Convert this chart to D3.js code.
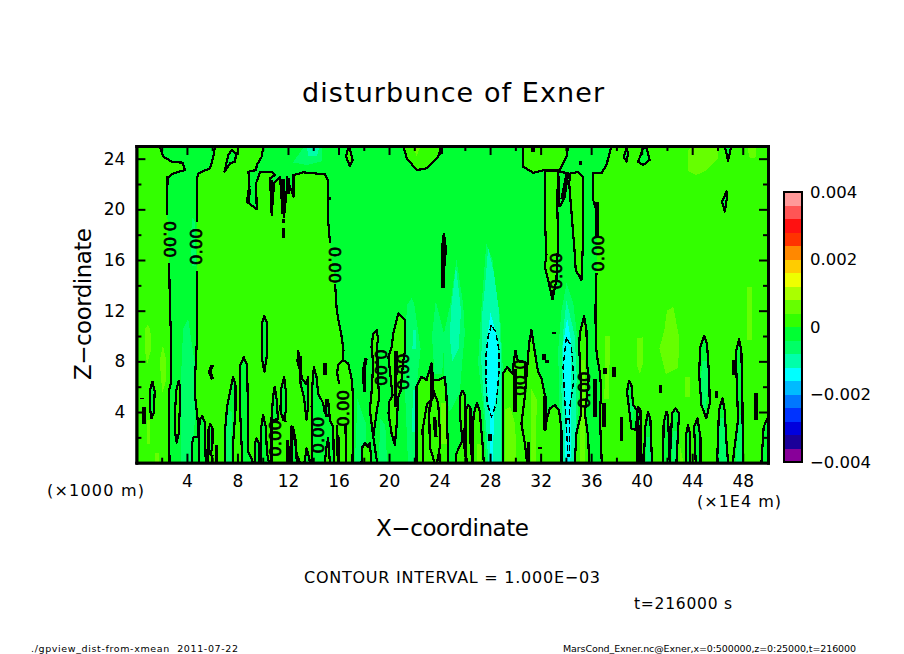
<!DOCTYPE html>
<html><head><meta charset="utf-8">
<script src="https://cdn.jsdelivr.net/npm/d3@7/dist/d3.min.js"></script>
<style>html,body{margin:0;padding:0;background:#fff}svg{display:block}text{font-family:"DejaVu Sans",sans-serif;fill:#000}</style>
</head><body><svg id="c" width="904" height="654"></svg>
<script>
// ---- tick labels and legend values
const xMajor=[4,8,12,16,20,24,28,32,36,40,44,48];
const xMinor=[2,6,10,14,18,22,26,30,34,38,42,46,50];
const zMajor=[4,8,12,16,20,24];
const zMinor=[2,6,10,14,18,22];
const levelColors=["#880099","#1a0099","#0000dd","#0033ff","#0077ff","#00bbff","#00ffff","#00ffaa","#00ff66","#00ff33","#33ff00","#66ff00","#aaff00","#eeff00","#ffcc00","#ff8800","#ff3300","#ff1111","#ff5555","#ff9999"];
const legendTicks=[[0.004,"0.004"],[0.002,"0.002"],[0,"0"],[-0.002,"\u22120.002"],[-0.004,"\u22120.004"]];
// ---- zero contour, main branches, (x, z)
const lineA1=[[1.82,25],[2.14,24.16],[2.8,23.76],[3.67,23.68],[3.85,23.1],[2.93,22.84],[2.4,22.45],[2.45,19.55]];
const lineA2=[[2.59,15.74],[2.66,12.05],[2.72,10.5],[2.72,6.26],[2.56,5.6],[2.62,0]];
const lineB1=[[6.23,25],[6.09,24.16],[5.83,23.24],[4.91,22.84],[4.78,22.45],[4.78,19.03]];
const lineB2=[[4.78,15.16],[4.78,12.05],[4.83,10.47],[4.67,7.3],[4.65,5.2],[4.83,3.6],[4.93,2.05],[4.95,0]];
const lineC1=[[10.05,25],[9.92,24.16],[9.53,23.5],[9.47,23.1],[8.87,22.97],[8.95,21.79],[8.74,20.6],[9.53,20],[9.47,22.05],[9.79,22.92],[10.71,22.97],[10.98,22.71],[10.58,22.45],[10.71,19.55],[10.9,22.05],[11.37,22.58],[11.5,20.74],[11.69,19.42],[11.9,21.53],[11.9,22.58],[12.43,21],[12.43,22.71],[13.22,22.92],[14.93,22.76],[15.2,22.18],[15.15,19.42],[15.33,17.32]];
const lineC2=[[15.73,14.1],[15.86,12.05],[15.99,11.26],[16.25,9.95],[16.39,8.9],[16.37,8.1]];
const lineC3=[[16.37,8.1],[16.77,7.84],[17.03,6.66],[17.16,5.2],[17.11,0]];
const lineD1=[[37.61,25],[37.21,23.5],[36.81,22.84],[36.16,22.84],[36.16,20.74],[36.42,19.95],[36.47,17.84]];
const lineD2=[[36.42,14.95],[36.34,12.05],[36.37,9.42],[36.47,8.37],[36.68,7.18],[36.81,5.74],[36.68,3.9],[36.84,0]];
// ---- closed negative pockets inside the positive areas
const negLoops=[
[[1.27,6.39],[1.11,5.87],[1.06,4.42],[1.19,3.5],[1.37,3.89],[1.45,5.63]],
[[7.55,24.68],[7.28,24.29],[6.97,22.97],[7.41,23.63],[7.81,23.76],[7.89,24.42]],
[[10.13,11.6],[9.95,11],[9.92,8.37],[10.13,7.18],[10.32,8.37],[10.34,11]],
[[4.43,0],[4.41,1.53],[4.54,2.05],[4.93,2.05],[5.01,3.37],[5.2,3.68],[5.41,3.24],[5.49,0]],
[[5.86,3.05],[5.7,2.58],[5.7,.74],[5.9,.6],[6.02,1.53],[6.02,2.71]],
[[6.99,0],[7.02,2.58],[7.18,4.42],[7.52,6.13],[7.65,6.79],[7.84,6.13],[7.84,4.16],[7.65,1.5],[7.65,0]],
[[8.39,0],[8.23,3.63],[8.18,7.58],[8.5,8.32],[8.76,7.71],[8.84,3.9],[8.84,.87],[9.1,.34],[9.23,0]],
[[9.37,0],[9.37,1.5],[9.5,1.92],[9.71,1.5],[9.71,0]],
[[9.89,0],[9.89,2.84],[10.03,3.76],[10.24,2.84],[10.34,.74],[10.5,0]],
[[10.69,3.37],[10.82,5.21],[10.95,6],[11.1,5],[11.21,3.42]],
[[11.61,3.37],[11.4,4.16],[11.48,5.87],[11.69,6.79],[11.82,5.74],[11.82,4]],
[[12.27,0],[12.4,2.84],[12.6,1.8],[12.7,0]],
[[12.15,0],[12.28,2.89],[12.55,1.79],[12.68,.74],[12.94,0]],
[[13.3,0],[13.47,1.13],[13.6,.7],[13.75,0]],
[[13.87,0],[13.87,4.42],[13.94,6.26],[14.05,7.53],[14.26,6.79],[14.39,5.47],[14.79,4.68],[14.92,3.89],[15.18,4.95],[15.32,3.37],[15.58,2.84],[15.63,0]],
[[12.81,8.84],[12.94,7.84],[12.99,6.26],[13.26,5.21],[13.47,3.37],[13.6,4.5],[13.6,6.79],[13.45,6.2],[13.15,6.6],[12.75,8]],
[[39,6.47],[38.84,5.6],[39.11,3.37],[39.19,2.71],[39.53,2.58],[39.71,4.42],[39.9,4.16],[39.98,0],[39.71,0],[39.71,3],[39.63,4.16],[39.32,4.55],[39.19,6.13]],
[[40.16,0],[40.29,2.84],[40.5,4.03],[40.69,3.37],[40.82,0]],
[[41.69,0],[41.74,3.1],[41.96,4.03],[42.09,3.63],[42.22,0]],
[[42.22,0],[42.35,2.58],[42.4,3.89],[42.67,4.29],[42.96,3.89],[42.75,0]],
[[43.51,0],[43.54,2.32],[43.67,2.97],[43.83,2.32],[43.8,0]],
[[44.28,0],[44.15,2.84],[44.41,3.5],[44.65,2.05],[44.65,0]],
[[45.97,0],[46.12,4.16],[46.39,5.08],[46.57,4.16],[46.7,1.79],[46.84,0]],
[[47.23,0],[47.29,.74],[47.63,3.37],[47.55,5.74],[47.44,8.63],[47.71,9.74],[47.89,8.9],[47.97,5.21],[48.02,0]],
[[49.48,0],[49.66,2.84],[50,3.58],[50,0]],
[[44.94,10.03],[44.65,9.16],[44.54,7.05],[44.73,4.55],[45.12,3.5],[45.39,4.68],[45.33,7.05],[45.17,9.37]],
[[38.79,24.82],[38.58,24.16],[38.79,23.76],[38.93,24.42]],
[[40.11,24.82],[39.72,23.76],[40.11,23.5],[40.64,23.9],[40.38,24.82]],
[[46.58,25],[46.84,23.84],[47.1,25]],
[[46.71,21.4],[46.37,20.6],[46.58,19.82],[46.76,21]]
];
// ---- closed positive pockets inside the negative areas
const posLoops=[
[[3.35,6.47],[3.17,5.74],[3.06,4.16],[3.06,2.45],[3.19,1.58],[3.35,2.32],[3.43,4.16],[3.46,5.87]],
[[16.78,24.95],[16.6,24.16],[16.9,23.42],[17.12,23.9],[16.9,24.8]],
[[21.13,25],[21.4,24.03],[22.19,23.1],[22.98,23.24],[23.9,24.16],[24.17,25]],
[[30.61,25],[30.61,23.37],[31.41,22.89],[32.33,23.1],[33.52,23.1],[34.05,24.16],[34.18,25]],
[[32.33,23],[32.33,19.42],[32.46,16.39],[32.33,15.47],[32.65,14.16],[32.94,12.9],[33.25,14.42],[33.39,17.58],[33.31,20.47],[33.39,23]],
[[34.26,22.05],[34.7,16.53],[34.78,15.21],[35.23,14.42],[35.36,17.58],[35.36,22.58],[34.97,22.97],[34.57,22.84],[34.36,22.84]],
[[14.92,0],[15.05,1.26],[15.18,1.92],[15.32,0]],
[[18.75,2.05],[18.48,4.16],[18.61,5.47],[18.75,7.84],[18.61,9.16],[18.75,10.2],[19.02,10.47],[19.16,9.6],[19.06,9.42],[19.1,7],[19.22,5.08],[19.06,4.29]],
[[20.2,2.32],[19.96,3.89],[20.01,4.82],[20.28,5.3],[19.95,8.37],[20.21,9.16],[20.34,10.2],[20.74,11.79],[21.27,11.26],[21.27,8.9],[21.12,8],[20.9,5.6],[20.73,5.21],[20.59,2.84],[20.46,1.39]],
[[17.82,0],[17.9,1.26],[18.09,1.53],[18.35,1.26],[18.48,1.58],[18.61,0]],
[[22.18,0],[22.18,6],[22.57,6.79],[22.97,6.53],[23.36,7.84],[23.5,6.53],[23.89,6.53],[24.42,6.79],[24.55,5.21],[24.6,3],[24.7,0]],
[[25.28,0],[25.34,.74],[25.81,1.79],[25.65,3.37],[25.6,5.21],[25.81,5.68],[26,5.34],[26,3.1],[25.92,1.53],[26.13,0]],
[[26.13,0],[26.08,4.16],[26.26,4.55],[26.45,4.29],[26.45,1.53],[26.6,0]],
[[26.6,0],[26.6,2.05],[26.71,3.89],[26.97,4.74],[27.18,4.03],[27.4,1.53],[27.5,0]],
[[29.03,0],[29.03,7.05],[29.35,7.53],[29.77,7.05],[29.82,7.58],[30.01,8.84],[30.2,8],[30.75,7.97],[30.83,6.26],[30.75,5.21],[31.09,9.42],[31.27,10.47],[31.46,9.26],[31.8,7.16],[32.07,6.66],[32.33,5.34],[32.33,2.58],[32.51,3.5],[32.73,4.29],[33.12,4.55],[33.46,4.16],[33.65,2.58],[33.65,0]],
[[34.7,0],[34.84,2.37],[35.23,3.9],[35.2,6],[35.05,9.16],[35.1,10.2],[35.44,11.58],[35.63,10.47],[35.68,7.84],[35.8,6.5],[35.5,3.9],[35.76,2.05],[35.84,0]]
];
// ---- other open contour segments
const openLines=[
[[18.75,2.05],[19.06,0]],
[[16.37,8.1],[15.95,7.7],[15.9,7.05],[16.05,6.2]],
[[22.7,0],[22.65,2.58],[23,4.6],[23.25,4.9],[23.18,3.89],[23.23,1.26],[23.6,0]],
[[23.5,5.74],[23.18,3.89]],[[23.5,5.74],[23.89,4.68],[24.02,2.58],[24.02,1.26],[23.8,0]],
[[30.75,5.21],[30.48,3.1],[30.75,1.53],[30.93,0]],
[[24.35,18.1],[24.5,16.9],[24.4,15.5]],
[[33.39,23],[34.18,22.84],[33.91,21],[33.52,20.2]],
[[11.75,4],[11.8,3.2]],[[6.02,.6],[6.0,0]],[[5.7,.74],[5.65,0]],[[15.0,5],[15.05,3.6]],
[[10.7,0],[10.69,3.37]],[[16.6,0],[16.55,3]],[[15.9,3],[15.95,0]]
];
// ---- heavy crowded stretches of contour
const heavyLines=[
[[.58,4.37],[.58,3.05]],[[.42,5.12],[.42,5.0]],[[2.45,22.6],[2.45,21.9]],
[[6.02,7.71],[5.8,7.2],[6.02,6.58]],[[6.33,1.4],[6.33,0]],
[[11.95,1.8],[11.95,0]],[[8.95,21.6],[8.8,20.5]],[[10.71,22.3],[10.71,19.9]],[[11.6,22.4],[11.6,19.6]],
[[11.63,19.2],[11.63,18.9]],[[11.63,18.5],[11.63,17.7]],[[12.0,22.5],[12.0,21.2]],
[[24.3,18],[24.28,13.8]],[[14.92,7.84],[14.92,6.92]],[[13.0,8.4],[13.0,7]],
[[15.95,0.5],[15.95,2]],[[18.17,8.24],[18.01,7.32],[18.06,5.6]],[[20.55,8.8],[20.5,4.4]],
[[23.36,7.6],[23.4,5]],[[23.6,3.6],[23.7,2]],[[31.05,1.6],[31.05,0]],[[29.96,7.4],[29.96,4]],
[[32.25,8.58],[32.25,8.1]],[[32.51,8.1],[32.51,7.85]],[[33.04,10.3],[33.04,10.15]],[[31.93,1.25],[31.93,1.1]],
[[27.98,2.26],[27.98,1.74]],[[32.33,5.3],[32.33,2.6]],[[34.1,3.4],[34.1,3.5]],
[[36.29,6.6],[36.29,3.6]],[[37,4.7],[37,2.85]],[[37.1,7.45],[37.1,7]],[[37.81,7.58],[37.81,6.79]],
[[41.48,6.13],[41.48,5.53]],[[38.39,3.63],[38.39,1.74]],[[45.91,5.68],[45.91,5.08]],[[47.29,8.1],[47.29,6.92]],
[[49.03,5.47],[49.03,3.37]],[[39.71,3],[39.71,0]],[[36.47,20.6],[36.47,17.9]],[[32.95,13.6],[32.95,13]],
[[33.4,22.6],[33.4,20.2]],[[34.1,22.8],[33.7,20.8]],[[31.4,25],[31.4,24.5]],[[15.3,21],[15.3,20.7]],[[35.15,23.85],[35.15,23.5]],
[[24.15,25],[24.15,24.35]],[[11.1,25],[11.1,24.85]]
];
// ---- dashed negative contour
const dashedLoops=[
[[28.11,10.9],[27.85,10],[27.66,8.4],[27.66,6.5],[27.77,4.7],[28.11,3.6],[28.5,4.7],[28.69,7],[28.69,9],[28.45,10.3]],
[[34.04,9.89],[33.78,7.58],[33.91,4.95],[34.18,.47],[34.26,.47],[34.31,4.42],[34.63,6.53],[34.44,9.16]]
];
// ---- shaded bands beyond the first interval
const bandNear=[
[[3.7,10.6],[3.5,6],[3.55,0],[4.4,0],[4.6,3],[4.6,8],[4.25,10.3],[4.1,11.4]],
[[4.4,19.4],[4.3,17],[4.4,15.5],[4.7,15.5],[4.65,19]],
[[12.4,23.7],[13.3,25],[14.7,25],[14.7,23.8],[13.5,23.5]],
[[21.8,13],[21.4,12.4],[21.25,6],[21.5,0],[22.18,0],[22.18,6],[22.5,9],[22,12.5]],
[[23.7,12.8],[23.4,10],[23.6,7],[24.2,7],[24.4,10]],
[[25.34,16],[24.85,12.5],[24.3,10],[24.4,6],[24.8,4],[25.6,5.5],[25.8,8],[26,10.2],[25.87,12.5]],
[[27.7,17.3],[27.3,12.05],[27.05,7.9],[27.45,4.4],[27.7,0],[29.03,0],[29.03,7],[28.8,11.5],[28.5,13],[28.2,16]],
[[34.05,14.16],[33.65,12],[33.4,9],[33.45,5],[33.5,0],[34.7,0],[34.84,2.37],[35.05,6],[35,9],[34.6,12.5]],
[[17.5,5],[17.3,0],[18.2,0],[18.2,3]],[[19.3,3.5],[19.2,0],[19.85,0],[19.7,3]],
[[7.15,4.2],[7.05,0],[7.5,0],[7.55,4]],
[[44.75,8],[44.7,5],[45,4],[45.3,6],[45.25,8]],[[46.15,3.5],[46.1,0],[46.75,0],[46.55,3.5]],
[[40.35,2],[40.3,0],[40.75,0],[40.65,2]],[[42.45,2.5],[42.4,0],[42.72,0],[42.8,2.5]],[[47.45,0],[47.62,3],[47.9,4],[47.92,0]],
[[39.05,5],[39.2,3],[39.38,4.3]]
];
const bandMid=[
[[13.5,25],[14.5,25],[14.3,24.2],[13.6,24.2]],
[[21.9,5.7],[21.8,2.4],[22.05,2.4],[22.1,5.7]],[[21.9,10.5],[21.85,9],[22.1,9],[22.1,10.5]],
[[25.3,15.5],[24.95,12.5],[24.8,10],[25,8],[25.5,9],[25.7,12]],
[[27.85,17],[27.6,14],[27.4,12],[27.3,8],[27.5,5],[27.75,2],[27.85,0],[28.9,0],[28.85,4],[28.85,9],[28.7,12],[28.3,15]],
[[34.05,12.8],[33.75,10],[33.65,6],[33.7,0],[34.7,0],[34.8,3],[34.85,7],[34.7,10]]
];
const bandFar=[
[[28.03,11.8],[27.71,9.4],[27.66,6.8],[27.98,3.6],[27.98,0],[28.24,0],[28.29,3.6],[28.64,6.8],[28.64,9.7]],
[[34.1,11.4],[33.78,9.4],[33.78,6.8],[33.99,3.6],[33.91,0],[34.36,0],[34.44,4.9],[34.44,9.4]]
];
const bandWarm=[
[[.66,10.5],[.66,9],[.85,7.8],[1.19,9],[1.1,10.5],[.9,10.9]],[[1.85,8],[2.1,9.3],[2.37,8],[2.3,6.3],[2.05,5.5]],
[[.8,3.4],[.8,1.5],[1.1,1.5],[1.1,3.4]],[[21.9,25],[22.19,24.2],[22.5,25]],
[[41.8,10.5],[41.4,9],[41.9,7],[42.9,7.5],[42.95,10],[42.5,12.3],[42,12]],
[[39.6,9.8],[39.6,7.8],[39.85,7],[40.1,7.8],[40.1,9.9]],[[43.4,6.8],[43.4,5.2],[43.8,5.2],[43.8,6.8]],
[[43.7,24.7],[43.7,23],[44.3,22.7],[45,23],[46.05,24],[46.05,25],[44,25]],
[[48.4,25],[48.5,24.1],[49,24],[49.1,25]],[[48.3,13.9],[48.3,9.7],[48.7,9.7],[48.7,13.9]],
[[29.2,4.2],[29.2,0],[30.05,0],[30,3],[29.6,4.4]],[[27,1.5],[27,0],[27.3,0],[27.3,1.4]],
[[35.1,8.1],[35.15,0],[35.5,0],[35.5,8.1]],[[24.15,4.7],[24.15,1.5],[24.55,1.5],[24.55,4.7]],
[[37.1,10],[37.05,5],[37.4,5],[37.5,10]],[[1.5,0],[1.5,.8],[1.75,.8],[1.75,0]],
[[31.2,6],[31.2,0],[31.6,0],[31.7,5]],[[43,1.5],[43,0],[43.3,0]]
];
// ---- rotated contour labels: x, z, angle
const labelText="0.00";
const labelSpots=[[2.61,17.63,90],[4.78,17.05,-90],[15.65,15.6,90],[33.25,15.13,-90],[36.55,16.53,-90],
[10.98,1.92,-90],[14.4,2.18,-90],[16.37,4.29,-90],[19.33,7.5,90],[21.17,7.18,-90],[30.35,6.71,90],[35.5,5.74,-90]];

const svg=d3.select("#c");
const x=d3.scaleLinear().domain([0,50]).range([136.4,768]);
const z=d3.scaleLinear().domain([0,25]).range([462.7,146]);
const line=d3.line().x(d=>x(d[0])).y(d=>z(d[1]));
const area=p=>line(p)+"Z";
const rev=a=>a.slice().reverse();
const defs=svg.append("defs");
defs.append("clipPath").attr("id","plot").append("rect").attr("x",x(0)).attr("y",z(25)).attr("width",x(50)-x(0)).attr("height",z(0)-z(25));
const plot=svg.append("g").attr("clip-path","url(#plot)");
const cNeg=levelColors[9],cPos=levelColors[10],cNear=levelColors[8],cMid=levelColors[7],cFar=levelColors[6],cWarm=levelColors[11];
const fill=(data,color)=>plot.append("g").attr("shape-rendering","crispEdges").selectAll("path").data(data).join("path").attr("d",area).attr("fill",color);
// base fields
fill([[[0,0],[50,0],[50,25],[0,25]]],cNeg);
const posBlocks=[
 [[0,0],...rev(lineA2),...rev(lineA1),[0,25]],
 [...lineB1,...lineB2,...rev(lineC3),...rev(lineC2),...rev(lineC1)],
 [...lineD1,...lineD2,[50,0],[50,25]]
];
fill(posBlocks,cPos);
fill(negLoops,cNeg);
fill(bandNear,cNear);
fill(bandMid,cMid);
fill(bandFar,cFar);
fill(posLoops,cPos);
fill(bandWarm,cWarm);
// contours
const stroke=(data,w,closed,dash)=>plot.append("g").attr("shape-rendering","crispEdges").selectAll("path").data(data).join("path")
  .attr("d",d=>closed?area(d):line(d)).attr("fill","none").attr("stroke","#000").attr("stroke-width",w)
  .attr("stroke-dasharray",dash||null).attr("stroke-linejoin","round");
stroke([lineA1,lineA2,lineB1,lineB2,lineC1,lineC2,lineC3,lineD1,lineD2,...openLines],2.2,false);
stroke([...negLoops,...posLoops],2.2,true);
stroke(heavyLines,3.6,false);
stroke(dashedLoops,1.4,true,"6 3");
plot.append("g").selectAll("text").data(labelSpots).join("text")
  .attr("transform",d=>`translate(${x(d[0])},${z(d[1])}) rotate(${d[2]})`)
  .attr("text-anchor","middle").attr("dominant-baseline","central").attr("font-size",16.5)
  .attr("stroke","#000").attr("stroke-width",.7).text(labelText);
// axes
const styleAxis=g=>{g.selectAll(".domain").attr("stroke","#000").attr("stroke-width",2.8).attr("stroke-linecap","square");g.selectAll(".tick line").attr("stroke","#000").attr("stroke-width",2);g.selectAll("text").attr("font-size",17).attr("font-family",'"DejaVu Sans",sans-serif');};
const fmt=d3.format("d");
const ax=(gen,tr)=>svg.append("g").attr("transform",tr).call(gen).call(styleAxis);
ax(d3.axisBottom(x).tickValues(xMajor).tickSize(-9).tickFormat(fmt).tickPadding(12).tickSizeOuter(0),`translate(0,${z(0)})`);
ax(d3.axisBottom(x).tickValues(xMinor).tickSize(-5).tickFormat("").tickSizeOuter(0),`translate(0,${z(0)})`);
ax(d3.axisTop(x).tickValues(xMajor).tickSize(-9).tickFormat("").tickSizeOuter(0),`translate(0,${z(25)})`);
ax(d3.axisTop(x).tickValues(xMinor).tickSize(-5).tickFormat("").tickSizeOuter(0),`translate(0,${z(25)})`);
ax(d3.axisLeft(z).tickValues(zMajor).tickSize(-9).tickFormat(fmt).tickPadding(11).tickSizeOuter(0),`translate(${x(0)},0)`);
ax(d3.axisLeft(z).tickValues(zMinor).tickSize(-5).tickFormat("").tickSizeOuter(0),`translate(${x(0)},0)`);
ax(d3.axisRight(z).tickValues(zMajor).tickSize(-9).tickFormat("").tickSizeOuter(0),`translate(${x(50)},0)`);
ax(d3.axisRight(z).tickValues(zMinor).tickSize(-5).tickFormat("").tickSizeOuter(0),`translate(${x(50)},0)`);
// colour bar
const bar=d3.scaleLinear().domain([-0.004,0.004]).range([462,192]);
const step=0.0004;
const gb=svg.append("g");
gb.selectAll("rect").data(levelColors).join("rect").attr("shape-rendering","crispEdges")
 .attr("x",784).attr("width",18).attr("y",(c,i)=>bar(-0.004+(i+1)*step)).attr("height",(c,i)=>bar(-0.004+i*step)-bar(-0.004+(i+1)*step)).attr("fill",c=>c);
gb.append("rect").attr("x",784).attr("y",bar(0.004)).attr("width",18).attr("height",bar(-0.004)-bar(0.004)).attr("fill","none").attr("stroke","#000").attr("stroke-width",2);
gb.selectAll("text").data(legendTicks).join("text").attr("x",810).attr("y",d=>bar(d[0])).attr("dominant-baseline","central").attr("font-size",16.5).text(d=>d[1]);
// texts
const T=(s,xx,yy,size,len,extra)=>{const t=svg.append("text").attr("x",xx).attr("y",yy).attr("font-size",size).text(s);if(len)t.attr("textLength",len).attr("lengthAdjust","spacing");if(extra)extra(t);return t;};
T("disturbunce of Exner",302,102,27,302);
T("X\u2212coordinate",376,536,23,153);
svg.append("text").attr("transform","translate(91,380) rotate(-90)").attr("font-size",23).attr("textLength",152).attr("lengthAdjust","spacing").text("Z\u2212coordinate");
T("(\u00d71000 m)",47,496,16,97);
T("(\u00d71E4 m)",697,507,16,84);
T("CONTOUR INTERVAL = 1.000E\u221203",304,583,16,296);
T("t=216000 s",634,609,15.5,98);
T("./gpview_dist-from-xmean  2011-07-22",31,652,9.5,207).attr("xml:space","preserve");
T("MarsCond_Exner.nc@Exner,x=0:500000,z=0:25000,t=216000",563,652,9.5,293);
</script></body></html>
